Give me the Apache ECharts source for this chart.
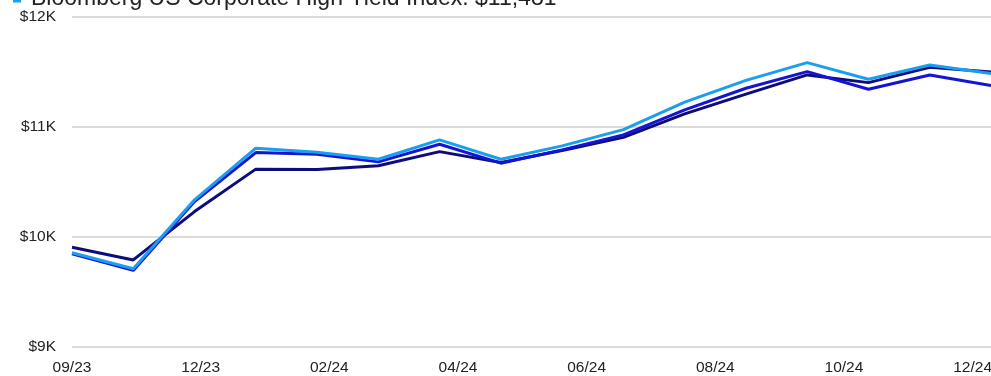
<!DOCTYPE html>
<html>
<head>
<meta charset="utf-8">
<script src="https://cdn.jsdelivr.net/npm/echarts@6/dist/echarts.min.js"></script>
<style>
  html, body { margin: 0; padding: 0; background: #fff; overflow: hidden; }
  #chart { width: 991px; height: 376px; }
</style>
</head>
<body>
<div id="chart"></div>
<script>
// Month-end points, Sept 2023 through Dec 2024
const months = ['09/23','10/23','11/23','12/23','01/24','02/24','03/24','04/24',
                '05/24','06/24','07/24','08/24','09/24','10/24','11/24','12/24'];

// Growth of a $10,000 investment
const classNavy = [9905, 9790, 10229, 10614, 10610, 10644, 10773, 10674,
                   10783, 10902, 11116, 11295, 11469, 11399, 11538, 11496];
const classBlue = [9845, 9695, 10320, 10764, 10750, 10680, 10840, 10668,
                   10789, 10925, 11152, 11348, 11499, 11339, 11469, 11372];
const indexValues = [9855, 9710, 10336, 10804, 10768, 10704, 10879, 10704,
                     10825, 10973, 11222, 11420, 11581, 11430, 11559, 11481];

const indexName = 'Bloomberg US Corporate High Yield Index';

// Axis tick labels, one every 2.1 months from the first point
const tickLabels = ['09/23','12/23','02/24','04/24','06/24','08/24','10/24','12/24'];
const tickStep = 2.1;

const yTicks = [9000, 10000, 11000, 12000];

const FONT = "'Liberation Sans', Arial, sans-serif";

function toPoints(values) {
  return values.map((v, i) => [i, v]);
}
function money(v) {
  return '$' + String(Math.round(v)).replace(/\B(?=(\d{3})+(?!\d))/g, ',');
}

const chart = echarts.init(document.getElementById('chart'), null, { renderer: 'canvas' });

chart.setOption({
  animation: false,
  backgroundColor: '#ffffff',
  grid: { left: 72, right: 0, top: 16.4, bottom: 29, containLabel: false, outerBoundsMode: 'none' },
  legend: {
    data: [indexName],
    left: 13,
    top: -13,
    padding: 0,
    itemWidth: 8,
    itemHeight: 8,
    icon: 'rect',
    textStyle: { fontFamily: FONT, fontSize: 23, color: '#222', padding: [0, 0, 0, 5] },
    formatter: name => name + ': ' + money(indexValues[indexValues.length - 1])
  },
  xAxis: {
    type: 'value',
    min: 0,
    max: months.length - 1,
    interval: tickStep,
    axisLine: { show: false },
    axisTick: { show: false },
    splitLine: { show: false },
    axisLabel: {
      fontFamily: FONT,
      fontSize: 15.5,
      color: '#222',
      margin: 13,
      showMaxLabel: true,
      formatter: v => {
        const k = Math.round(v / tickStep);
        return Math.abs(v - k * tickStep) < 1e-6 && tickLabels[k] ? tickLabels[k] : '';
      }
    }
  },
  yAxis: {
    type: 'value',
    min: yTicks[0],
    max: yTicks[yTicks.length - 1],
    interval: 1000,
    axisLine: { show: false },
    axisTick: { show: false },
    splitLine: { show: true, lineStyle: { color: '#cfcfcf', width: 1.5 } },
    axisLabel: {
      fontFamily: FONT,
      fontSize: 15.5,
      color: '#222',
      margin: 16,
      formatter: v => '$' + (v / 1000) + 'K'
    }
  },
  series: [
    {
      name: 'Class I',
      type: 'line',
      data: toPoints(classNavy),
      showSymbol: false,
      lineStyle: { color: '#0c0c7c', width: 3 },
      itemStyle: { color: '#0c0c7c' },
      clip: false
    },
    {
      name: 'Class A',
      type: 'line',
      data: toPoints(classBlue),
      showSymbol: false,
      lineStyle: { color: '#1414d4', width: 3 },
      itemStyle: { color: '#1414d4' },
      clip: false
    },
    {
      name: indexName,
      type: 'line',
      data: toPoints(indexValues),
      showSymbol: false,
      lineStyle: { color: '#1a9ff0', width: 3 },
      itemStyle: { color: '#1a9ff0' },
      clip: false
    }
  ]
});
</script>
</body>
</html>
